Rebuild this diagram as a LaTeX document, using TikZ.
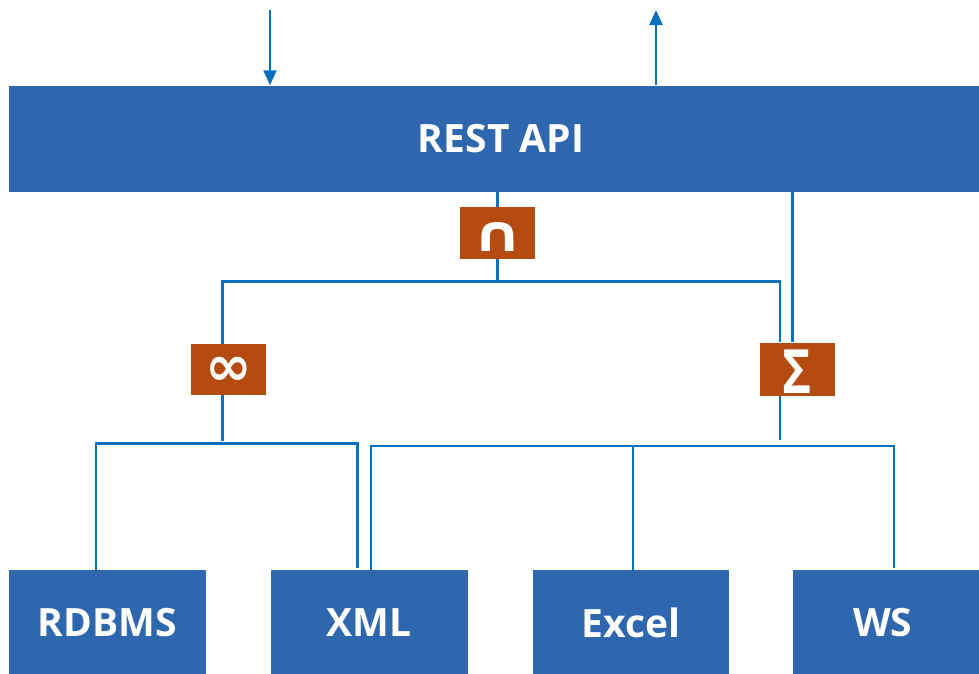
\documentclass[tikz,border=0pt]{standalone}
\usepackage{fontspec}
\setmainfont{Open Sans}
\newfontfamily\symfont{DejaVu Sans}
\usetikzlibrary{arrows.meta,calc}
\definecolor{boxblue}{RGB}{46,103,173}
\definecolor{opbrown}{RGB}{181,75,16}
\definecolor{linkblue}{RGB}{10,112,192}
\tikzset{
  bluebox/.style={fill=boxblue, draw=none, text=white, inner sep=0pt, font=\bfseries\fontsize{39}{42}\selectfont},
  opbox/.style={fill=opbrown, draw=none, text=white, inner sep=0pt, minimum width=75pt, minimum height=52pt},
  oplabel/.style={text=white, inner sep=0pt},
  link/.style={draw=linkblue, line width=2.2pt, line join=miter},
  arrowlink/.style={link, -{Triangle[width=13pt,length=15pt]}},
}
\begin{document}
\begin{tikzpicture}[x=1pt,y=-1pt]
\useasboundingbox (0,0) rectangle (979,673);
\clip (0,0) rectangle (979,673);
% main boxes
\node[bluebox, minimum width=984pt, minimum height=106pt] (rest) at (501,138.5) {REST API};
\node[bluebox, minimum width=197pt, minimum height=106pt] (rdbms) at (107.5,623) {RDBMS};
\node[bluebox, minimum width=197.5pt, minimum height=106pt] (xml) at (369.25,623) {XML};
\node[bluebox, minimum width=196.5pt, minimum height=106pt] (excel) at (630.75,623) {Excel};
\node[bluebox, minimum width=186.5pt, minimum height=106pt] (ws) at (885.75,623) {\hspace*{-6pt}WS};
% operator boxes
\node[opbox, label={[oplabel, yshift=-4pt]center:{\symfont\bfseries\scalebox{1.25}[1]{\fontsize{50}{50}\selectfont ∩}}}] (cap) at (497.5,233) {};
\node[opbox, minimum height=51pt, label={[oplabel, yshift=-2pt]center:{\symfont\bfseries\fontsize{56}{56}\selectfont ∞}}] (inf) at (228.5,369.5) {};
\node[opbox, minimum height=53pt, label={[oplabel, yshift=-3pt]center:{\bfseries\scalebox{1.05}[1.3]{\fontsize{47}{47}\selectfont Σ}}}] (sig) at (797,369) {};
% arrows at top
\coordinate (inA) at (270,10);
\coordinate (outA) at (656,10);
\draw[arrowlink] (inA) -- (inA |- rest.north);
\draw[arrowlink] (outA |- rest.north) -- (outA);
% REST to operators
\draw[link] (rest.south -| cap) -- (cap.north);
\coordinate (sx) at (792.5,0);
\draw[link] (rest.south -| sx) -- (sig.north -| sx);
% intersection split
\coordinate (jt) at (497.5,281.5);
\coordinate (jl) at (222.5,281.5);
\coordinate (jr) at (780,281.5);
\draw[link] (cap.south) -- (jt);
\draw[link] (inf.north -| jl) -- (jl) -- (jr) -- (sig.north -| jr);
% join split
\coordinate (bl) at (222.5,441);
\draw[link] (inf.south -| bl) -- (bl);
\coordinate (hl) at (96,443.5);
\coordinate (hr) at (357.5,443.5);
\draw[link] (rdbms.north -| hl) -- (hl) -- (hr) -- ($(xml.north -| hr)+(0,-2)$);
% union split
\coordinate (br) at (780,440);
\draw[link] (sig.south -| br) -- (br);
\coordinate (ul) at (371,446);
\coordinate (um) at (633,446);
\coordinate (ur) at (894,446);
\draw[link] (xml.north -| ul) -- (ul) -- (ur) -- ($(ws.north -| ur)+(0,-2)$);
\draw[link] (um) -- (excel.north -| um);
\end{tikzpicture}
\end{document}
